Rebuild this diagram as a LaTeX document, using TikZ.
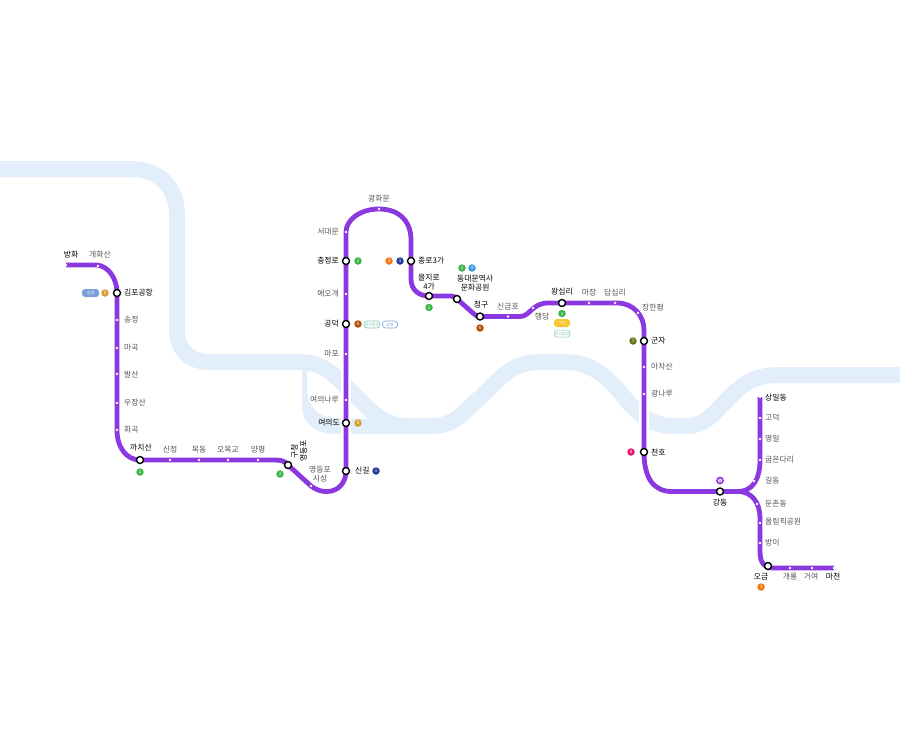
\documentclass[tikz,border=0pt]{standalone}
\usepackage{fontspec}
\usetikzlibrary{backgrounds}
\setmainfont{Noto Sans CJK KR}
\begin{document}
\begin{tikzpicture}[x=1pt,y=-1pt,
  river/.style={draw=riverc,line width=16pt,line join=round},
  branchr/.style={fill=riverc,draw=none},
  metro/.style={draw=linec,line width=4.8pt,line join=round},
  halo/.style={draw=white,line width=9.5pt},
  major/.style={circle,draw=black,fill=white,line width=1.4pt,minimum size=7pt,inner sep=0pt},
  minor/.style={circle,fill=white,minimum size=2.6pt,inner sep=0pt},
  lab/.style={font=\fontsize{7.8}{9}\selectfont,text=black,inner sep=0pt,align=center},
  sub/.style={font=\fontsize{7.8}{9}\selectfont,text=gtext,inner sep=0pt,align=center},
  badge/.style={circle,text=white,font=\fontsize{4.5}{5}\selectfont,minimum size=7.5pt,inner sep=0pt},
  pill/.style={rounded corners=3pt,font=\fontsize{4}{4}\selectfont,minimum height=7pt,inner sep=0.5pt},
]
\definecolor{riverc}{HTML}{E3EEFB}
\definecolor{linec}{HTML}{8B38E0}
\definecolor{gtext}{HTML}{555555}
\definecolor{bgreen}{HTML}{3CB44A}
\definecolor{bblue}{HTML}{263C96}
\definecolor{bgold}{HTML}{D4A032}
\definecolor{bbrown}{HTML}{B5500B}
\definecolor{borange}{HTML}{F5780F}
\definecolor{bsky}{HTML}{3C9BE0}
\definecolor{bolive}{HTML}{6E7320}
\definecolor{bpink}{HTML}{E6186E}
\definecolor{pblue}{HTML}{7A9FD8}
\definecolor{pyellow}{HTML}{FBC52D}
\definecolor{pmint}{HTML}{7FC8AE}
\useasboundingbox (0,0) rectangle (900,729);
% stations
\node[minor] (banghwa) at (66,265) {};
\node[minor] (gaehwa) at (98,266) {};
\node[major] (gimpo) at (117,293) {};
\node[minor] (songjeong) at (117,320) {};
\node[minor] (magok) at (117,348) {};
\node[minor] (balsan) at (117,374) {};
\node[minor] (ujangsan) at (117,403) {};
\node[minor] (hwagok) at (117,430) {};
\node[major] (kkachi) at (140,460) {};
\node[minor] (sinjeong) at (170,460) {};
\node[minor] (mokdong) at (199,460) {};
\node[minor] (omokgyo) at (228,460) {};
\node[minor] (yangpyeong) at (258,460) {};
\node[major] (ydpgu) at (288,465) {};
\node[minor] (ydpsi) at (311,486) {};
\node[major] (singil) at (346,471) {};
\node[major] (yeouido) at (346,423) {};
\node[minor] (yeouinaru) at (346,400) {};
\node[minor] (mapo) at (346,354) {};
\node[major] (gongdeok) at (346,324) {};
\node[minor] (aeogae) at (346,294) {};
\node[major] (chungjeong) at (346,261) {};
\node[minor] (seodaemun) at (346,232) {};
\node[minor] (gwanghwa) at (379,209) {};
\node[major] (jongno) at (411,261) {};
\node[major] (euljiro) at (429,296) {};
\node[major] (ddp) at (457,299) {};
\node[major] (cheonggu) at (480,316.5) {};
\node[minor] (singeumho) at (508,316.5) {};
\node[minor] (haengdang) at (533,308) {};
\node[major] (wangsimni) at (562,303) {};
\node[minor] (majang) at (589,303) {};
\node[minor] (dapsimni) at (615,303) {};
\node[minor] (janghan) at (638,313) {};
\node[major] (gunja) at (644,341) {};
\node[minor] (achasan) at (644,367) {};
\node[minor] (gwangnaru) at (644,394) {};
\node[major] (cheonho) at (644,452) {};
\node[major] (gangdong) at (720,491.5) {};
\coordinate (fork) at (738,491.5);
\node[minor] (gildong) at (754,481) {};
\node[minor] (gubeun) at (760,460) {};
\node[minor] (myeongil) at (760,439) {};
\node[minor] (godeok) at (760,418) {};
\node[minor] (sangil) at (760,397) {};
\node[minor] (dunchon) at (757,504) {};
\node[minor] (olympic) at (760,523) {};
\node[minor] (bangi) at (760,543) {};
\node[major] (ogeum) at (768,566) {};
\node[minor] (gaerong) at (790,568) {};
\node[minor] (geoyeo) at (812,568) {};
\node[minor] (macheon) at (834,568) {};
\coordinate (b1) at (97,265);
\coordinate (b3) at (275,460);
\begin{pgfonlayer}{background}
% river
\draw[river] (0,169) -- (130,169) .. controls (160,169) and (177,188) .. (177,215) -- (177,330)
  .. controls (177,350) and (190,362) .. (210,362) -- (298,362) .. controls (325,362) and (335,376) .. (352,392)
  -- (368,408) .. controls (382,421) and (392,426) .. (410,426) -- (432,426)
  .. controls (450,426) and (458,418) .. (470,407) -- (490,388) .. controls (505,372) and (518,362) .. (540,362)
  -- (565,362) .. controls (590,362) and (605,375) .. (620,392) -- (628,402) .. controls (642,418) and (655,426) .. (675,426)
  -- (685,426) .. controls (705,426) and (712,415) .. (725,402) -- (735,392) .. controls (748,380) and (760,375) .. (780,375) -- (900,375);
\fill[branchr] (302,365) -- (302,405) .. controls (302,424) and (315,434) .. (335,434) -- (410,434) -- (410,420)
  -- (335,418) .. controls (318,418) and (307,405) .. (307,388) -- (307,365) -- cycle;
\draw[halo] (346,340) -- (346,440);
\draw[halo] (644,360) -- (644,440);
% line
\draw[metro] (banghwa.center) -- (b1) .. controls (108,266) and (117,278) .. (gimpo.center) -- (hwagok.center)
  .. controls (117,448) and (127,460) .. (kkachi.center) -- (b3) .. controls (281,460) and (285,461) .. (ydpgu.center)
  -- (ydpsi.center) .. controls (318,491) and (322,491.5) .. (327,491.5) .. controls (338,491.5) and (346,483) .. (singil.center)
  -- (seodaemun.center) .. controls (346,220) and (360,209) .. (gwanghwa.center) .. controls (398,209) and (411,220) .. (411,240)
  -- (jongno.center) -- (411,279) .. controls (411,290) and (419,296) .. (euljiro.center) -- (451,296) .. controls (454,296) and (455,297) .. (ddp.center)
  -- (474,314) .. controls (476,316) and (478,316.5) .. (cheonggu.center) -- (singeumho.center) -- (520,316.5) .. controls (530,316.5) and (532,303) .. (548,303)
  -- (wangsimni.center) -- (617,303) .. controls (633,303) and (644,315) .. (644,330) -- (cheonho.center)
  .. controls (644,480) and (655,491.5) .. (672,491.5) -- (fork) .. controls (752,491.5) and (760,480) .. (gubeun.center) -- (sangil.center);
\draw[metro] (fork) .. controls (752,491.5) and (760,503) .. (760,518) -- (bangi.center) -- (760,552) .. controls (760,562) and (764,568) .. (772,568) -- (macheon.center);
\end{pgfonlayer}
% labels
\node[lab] (t1) at (71,255) {방화};
\node[sub] (t2) at (100,255) {개화산};
\node[lab,anchor=west] (t3) at (124,293) {김포공항};
\node[sub,anchor=west] (t4) at (124,320) {송정};
\node[sub,anchor=west] (t5) at (124,348) {마곡};
\node[sub,anchor=west] (t6) at (124,375) {발산};
\node[sub,anchor=west] (t7) at (124,403) {우장산};
\node[sub,anchor=west] (t8) at (124,430) {화곡};
\node[lab] (t9) at (141,448) {까치산};
\node[sub] (t10) at (170,450) {신정};
\node[sub] (t11) at (199,450) {목동};
\node[sub] (t12) at (228,450) {오목교};
\node[sub] (t13) at (258,450) {양평};
\node[lab,rotate=90] (t14) at (299,451) {구청\\영등포};
\node[sub] (t15) at (320,474) {영등포\\시상};
\node[lab,anchor=west] (t16) at (355,471) {신길};
\node[lab,anchor=east] (t17) at (340,423) {여의도};
\node[sub,anchor=east] (t18) at (339,400) {여의나루};
\node[sub,anchor=east] (t19) at (339,354) {마포};
\node[lab,anchor=east] (t20) at (339,324) {공덕};
\node[sub,anchor=east] (t21) at (339,294) {애오개};
\node[lab,anchor=east] (t22) at (339,261) {충정로};
\node[sub,anchor=east] (t23) at (339,232) {서대문};
\node[sub] (t24) at (379,199) {광화문};
\node[lab,anchor=west] (t25) at (418,261) {종로3가};
\node[lab] (t26) at (429,282) {을지로\\4가};
\node[lab,anchor=west] (t27) at (457,283) {동대문역사\\문화공원};
\node[lab] (t28) at (481,305) {청구};
\node[sub] (t29) at (508,307) {신금호};
\node[sub] (t30) at (542,317) {행당};
\node[lab] (t31) at (562,292) {왕십리};
\node[sub] (t32) at (589,293) {마장};
\node[sub] (t33) at (615,293) {답십리};
\node[sub,anchor=west] (t34) at (642,308) {장한평};
\node[lab,anchor=west] (t35) at (651,341) {군자};
\node[sub,anchor=west] (t36) at (651,367) {아차산};
\node[sub,anchor=west] (t37) at (651,394) {광나루};
\node[lab,anchor=west] (t38) at (651,452) {천호};
\node[lab] (t39) at (720,503) {강동};
\node[sub,anchor=west] (t40) at (765,481) {길동};
\node[sub,anchor=west] (t41) at (765,460) {굽은다리};
\node[sub,anchor=west] (t42) at (765,439) {명일};
\node[sub,anchor=west] (t43) at (765,418) {고덕};
\node[lab,anchor=west] (t44) at (765,398) {상일동};
\node[sub,anchor=west] (t45) at (765,504) {둔촌동};
\node[sub,anchor=west] (t46) at (765,522) {올림픽공원};
\node[sub,anchor=west] (t47) at (765,543) {방이};
\node[lab] (t48) at (761,577) {오금};
\node[sub] (t49) at (790,577) {개롱};
\node[sub] (t50) at (811,577) {거여};
\node[lab] (t51) at (833,577) {마천};
% badges
\node[badge,fill=bgold] (c1) at (105,293) {9};
\node[pill,fill=pblue,text=white,minimum width=17pt,minimum height=8pt] (p1) at (90.5,293) {공항};
\node[badge,fill=bgreen] (c2) at (140,472) {2};
\node[badge,fill=bgreen] (c3) at (280,474) {2};
\node[badge,fill=bblue] (c4) at (376,471) {1};
\node[badge,fill=bgold] (c5) at (358,423) {9};
\node[badge,fill=bgreen] (c6) at (358,261) {2};
\node[badge,fill=bbrown] (c7) at (358,324) {6};
\node[pill,draw=pmint,fill=white,text=pmint,line width=.6pt,minimum width=15pt] (p2) at (372,324.5) {경의중앙};
\node[pill,draw=pblue,fill=white,text=pblue,line width=.6pt,minimum width=15pt] (p3) at (390,324.5) {공항};
\node[badge,fill=borange] (c8) at (389,261) {3};
\node[badge,fill=bblue] (c9) at (400,261) {1};
\node[badge,fill=bgreen] (c10) at (429,307.5) {2};
\node[badge,fill=bgreen] (c11) at (462,268) {2};
\node[badge,fill=bsky] (c12) at (472,268) {4};
\node[badge,fill=bbrown] (c13) at (480,328) {6};
\node[badge,fill=bgreen] (c14) at (562,313.5) {2};
\node[pill,fill=pyellow,text=white,minimum width=16pt,minimum height=8pt] (p4) at (562,323) {수인};
\node[pill,draw=pmint,fill=white,text=pmint,line width=.5pt,minimum width=16pt] (p5) at (562,333.5) {경의중앙};
\node[badge,fill=bolive] (c15) at (633,341) {7};
\node[badge,fill=bpink] (c16) at (631,452) {8};
\node[badge,fill=white,draw=linec,line width=1.6pt,text=linec,minimum size=6pt] (c17) at (720,480.5) {5};
\node[badge,fill=borange] (c18) at (761,587) {3};
\end{tikzpicture}
\end{document}
